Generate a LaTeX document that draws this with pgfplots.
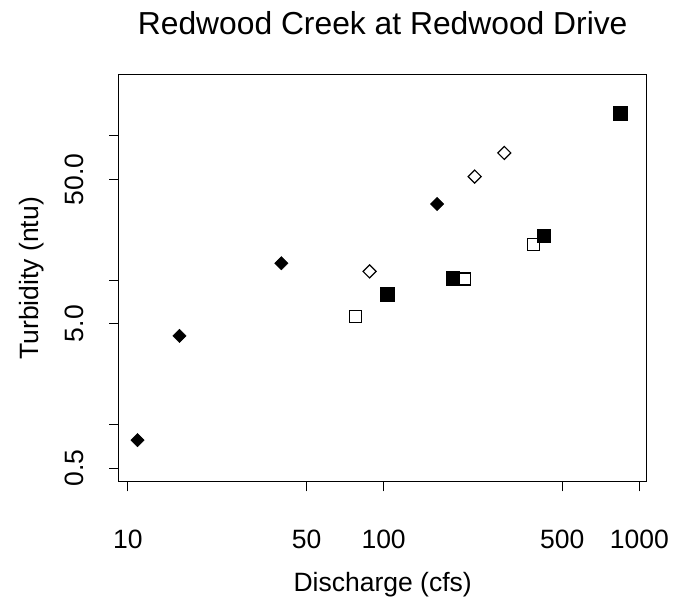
\documentclass[border=0pt]{standalone}
\usepackage{fontspec}
\setmainfont{Liberation Sans}
\usepackage{pgfplots}
\pgfplotsset{compat=1.18}
\begin{document}
\begin{tikzpicture}[x=1pt,y=1pt]
\useasboundingbox (0,0) rectangle (674,599);
\begin{axis}[
  at={(118.7pt,117.3pt)}, anchor=south west,
  scale only axis, width=528pt, height=406.7pt,
  xmode=log, ymode=log,
  xmin=9.2, xmax=1069, ymin=0.402, ymax=263.7,
  xtick={10,50,100,500,1000}, xticklabels={10,50,100,500,1000},
  ytick={0.5,1,5,10,50,100}, yticklabels={0.5,,5.0,,50.0,},
  minor xtick={}, minor ytick={},
  tick align=outside, major tick length=9.7pt,
  tick pos=left,
  axis line style={line width=1pt},
  every tick/.style={line width=1pt, black},
  tick label style={font=\fontsize{26.5}{30}\selectfont},
  xticklabel style={anchor=base, yshift=-57.3pt},
  yticklabel style={xshift=-25.7pt, rotate=90, anchor=base},
  clip=false,
]
\addplot[only marks, mark=square*, mark size=4.7pt, mark options={rotate=45, fill=black, draw=black, line width=0.5pt}]
  coordinates {(10.9,0.78) (15.9,4.11) (39.8,13.1) (161.8,33.7)};
\addplot[only marks, mark=square, mark size=4.6pt, mark options={rotate=45, draw=black, line width=1.2pt}]
  coordinates {(88.1,11.5) (227,52.2) (296.5,76.1)};
\addplot[only marks, mark=square, mark size=6pt, mark options={draw=black, line width=1.2pt}]
  coordinates {(77.6,5.57) (206.9,10.2) (386,17.7)};
\addplot[only marks, mark=square*, mark size=6.8pt, mark options={fill=black, draw=black, line width=0.5pt}]
  coordinates {(103.3,7.99) (186.6,10.3) (423.6,20.3) (840.5,143.6)};
\end{axis}
\node[anchor=base, font=\fontsize{31.8}{36}\selectfont] at (382.7,564) {Redwood Creek at Redwood Drive};
\node[anchor=base, font=\fontsize{26.5}{30}\selectfont] at (382.7,7) {Discharge (cfs)};
\node[rotate=90, anchor=base, font=\fontsize{26.5}{30}\selectfont] at (38,320.65) {Turbidity (ntu)};
\end{tikzpicture}
\end{document}
